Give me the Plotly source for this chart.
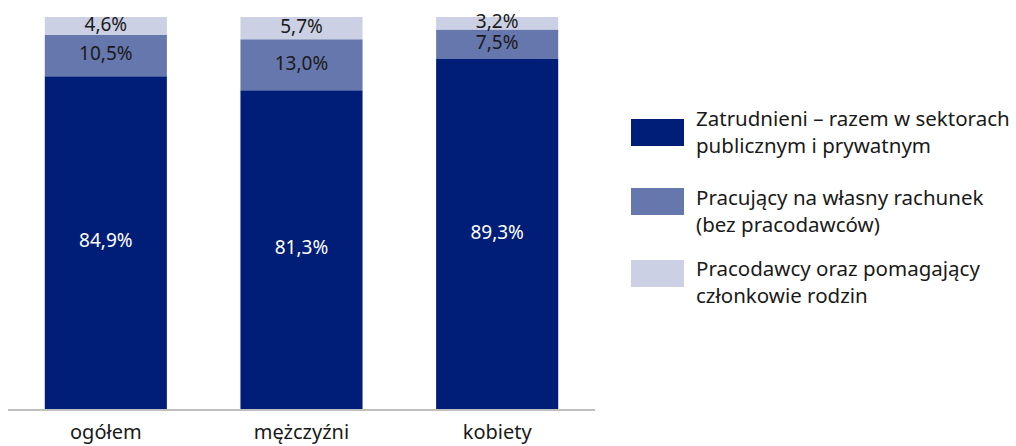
import plotly.graph_objects as go

categories = ["ogółem", "mężczyźni", "kobiety"]
series_names = [
    "Zatrudnieni – razem w sektorach<br>publicznym i prywatnym",
    "Pracujący na własny rachunek<br>(bez pracodawców)",
    "Pracodawcy oraz pomagający<br>członkowie rodzin",
]
employed = [84.9, 81.3, 89.3]
self_employed = [10.5, 13.0, 7.5]
employers = [4.6, 5.7, 3.2]

colors = ["#001E78", "#6677AD", "#CBD0E4"]
text_colors = ["white", "#1a1a1a", "#1a1a1a"]
FONT = "Noto Sans"

W, H = 1016, 446
L, R, T, B = 8, 595, 17, 409

fig = go.Figure()
series = [employed, self_employed, employers]
base = [0.0] * len(categories)
for vals, name, col, tcol in zip(series, series_names, colors, text_colors):
    fig.add_trace(go.Bar(
        x=categories, y=vals, base=base, name=name.replace("<br>", " "),
        marker=dict(color=col, line=dict(width=0)),
        showlegend=False, hoverinfo="skip",
    ))
    mids = [b + v / 2 for b, v in zip(base, vals)]
    fig.add_trace(go.Scatter(
        x=categories, y=mids, mode="text",
        text=[f"{v:.1f}%".replace(".", ",") for v in vals],
        textfont=dict(family=FONT, size=19, color=tcol),
        showlegend=False, hoverinfo="skip", cliponaxis=False,
    ))
    base = [b + v for b, v in zip(base, vals)]

def px(x):
    return (x - L) / (R - L)

def py(y):
    return (B - y) / (B - T)

legend_boxes = [(119, 146), (188, 215), (260, 287)]
legend_text_centers = [131, 210, 281]
for (y0, y1), cy, name, col in zip(legend_boxes, legend_text_centers, series_names, colors):
    fig.add_shape(type="rect", xref="paper", yref="paper",
                  x0=px(631), x1=px(684), y0=py(y1), y1=py(y0),
                  fillcolor=col, line=dict(width=0))
    fig.add_annotation(xref="paper", yref="paper", x=px(694), y=py(cy),
                       text=name, showarrow=False, xanchor="left", yanchor="middle",
                       align="left", font=dict(family=FONT, size=20.5, color="#1a1a1a"))

fig.update_layout(
    width=W, height=H,
    margin=dict(l=L, r=W - R, t=T, b=H - B, autoexpand=False),
    paper_bgcolor="white", plot_bgcolor="white",
    barmode="overlay", bargap=0.376,
    font=dict(family=FONT, size=20, color="#1a1a1a"),
    xaxis=dict(showline=True, linecolor="#BFBFBF", linewidth=1.5, ticks="",
               tickfont=dict(family=FONT, size=20, color="#1a1a1a"),
               ticklabelstandoff=4, showgrid=False, fixedrange=True, automargin=False),
    yaxis=dict(range=[0, 100], visible=False, showgrid=False, fixedrange=True),
)

fig.write_html(
    "out.html",
    config={"displayModeBar": False},
    post_script="document.body.style.margin='0';document.body.style.overflow='hidden';",
)
